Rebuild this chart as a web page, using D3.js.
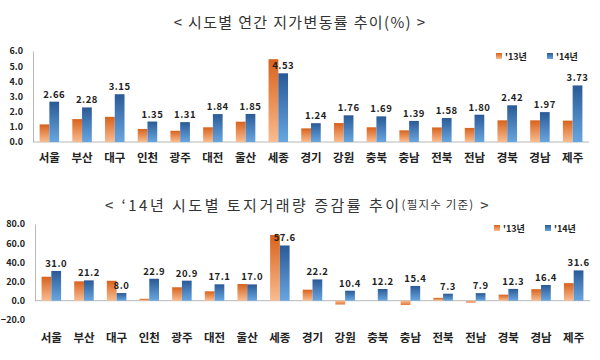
<!DOCTYPE html>
<html><head><meta charset="utf-8">
<script src="https://cdn.jsdelivr.net/npm/d3@7/dist/d3.min.js"></script>
<style>body{margin:0;background:#fff}svg{display:block}</style>
</head><body>
<svg id="c" width="600" height="360"></svg>
<script>
const regions = ["서울","부산","대구","인천","광주","대전","울산","세종","경기","강원","충북","충남","전북","전남","경북","경남","제주"];
const seriesNames = ["'13년","'14년"];
const land13 = [1.16,1.51,1.66,0.86,0.74,0.97,1.34,5.46,0.90,1.25,0.97,0.77,0.96,0.93,1.43,1.43,1.41];
const land14 = [2.66,2.28,3.15,1.35,1.31,1.84,1.85,4.53,1.24,1.76,1.69,1.39,1.58,1.80,2.42,1.97,3.73];
const landTicks = [0,1,2,3,4,5,6];
const trade13 = [25.0,20.2,20.8,2.0,14.0,9.8,17.4,68.5,11.5,-4.0,0.0,-4.5,3.0,-2.0,6.3,12.0,18.3];
const trade14 = [31.0,21.2,8.0,22.9,20.9,17.1,17.0,57.6,22.2,10.4,12.2,15.4,7.3,7.9,12.3,16.4,31.6];
const tradeTicks = [-20,0,20,40,60,80];
const title1 = "< 시도별 연간 지가변동률 추이(%) >";
const title2a = "< ‘14년 시도별 토지거래량 증감률 추이";
const title2b = "(필지수 기준)";
const title2c = " >";

const svg = d3.select("#c");
const FONT = "'Noto Sans CJK KR', 'Noto Sans', sans-serif";
const defs = svg.append("defs");
function grad(id, top, bottom){
  const g = defs.append("linearGradient").attr("id",id).attr("x1",0).attr("y1",0).attr("x2",0).attr("y2",1);
  g.append("stop").attr("offset","0%").attr("stop-color",top);
  g.append("stop").attr("offset","100%").attr("stop-color",bottom);
}
grad("gO","#d8621c","#f9bc90");
grad("gB","#2a5a96","#68a6e0");
grad("gOn","#f9bc90","#e8763a");
const fills = ["url(#gO)","url(#gB)"];

function chart(cfg){
  const x = d3.scaleBand().domain(regions).range([cfg.x0, cfg.x1]);
  const y = d3.scaleLinear().domain(cfg.domain).range([cfg.yb, cfg.yt]);
  const xs = d3.scaleBand().domain(seriesNames).range([x.bandwidth()/2-9.75, x.bandwidth()/2+9.75]);
  const g = svg.append("g");
  const ya = d3.axisLeft(y).tickValues(cfg.ticks).tickSize(0).tickPadding(cfg.pad).tickFormat(d3.format(".1f"));
  const ag = g.append("g").attr("transform",`translate(${cfg.x0},0)`).call(ya);
  ag.select(".domain").attr("stroke","#b8b8b8").attr("stroke-width",1);
  ag.selectAll("text").attr("font-family",FONT).attr("font-weight","bold").attr("font-size",9).attr("fill","#222");
  g.append("line").attr("x1",cfg.x0).attr("x2",cfg.x1).attr("y1",y(0)).attr("y2",y(0)).attr("stroke","#b8b8b8");
  const data = [cfg.s13, cfg.s14];
  data.forEach((arr, si) => {
    g.selectAll(null).data(arr).join("rect")
      .attr("x",(d,i)=>x(regions[i])+xs(seriesNames[si]))
      .attr("width",xs.bandwidth())
      .attr("y",d=>y(Math.max(0,d)))
      .attr("height",d=>Math.abs(y(d)-y(0)))
      .attr("fill",d=> (si===0 && d<0) ? "url(#gOn)" : fills[si]);
  });
  g.selectAll(null).data(cfg.s14).join("text")
    .attr("x",(d,i)=>x(regions[i])+xs(seriesNames[1])+xs.bandwidth()/2)
    .attr("y",d=>y(d)-4)
    .attr("text-anchor","middle")
    .attr("font-family",FONT).attr("font-weight","bold").attr("font-size",9.5).attr("letter-spacing",0.5).attr("fill","#222")
    .text(d=>d3.format(cfg.fmt)(d));
  g.selectAll(null).data(regions).join("text")
    .attr("x",d=>x(d)+x.bandwidth()/2)
    .attr("y",cfg.labY)
    .attr("text-anchor","middle").attr("dominant-baseline","central")
    .attr("font-family",FONT).attr("font-weight","bold").attr("font-size",11.5).attr("fill","#222")
    .text(d=>d);
  const lg = g.append("g");
  seriesNames.forEach((n,i)=>{
    const lx = cfg.legX + i*51;
    lg.append("rect").attr("x",lx-3).attr("y",cfg.legY-3).attr("width",6).attr("height",6).attr("fill",fills[i]);
    lg.append("text").attr("x",lx+6).attr("y",cfg.legY).attr("dominant-baseline","central")
      .attr("font-family",FONT).attr("font-weight","bold").attr("font-size",9).attr("fill","#222").text(n);
  });
}

chart({x0:33,x1:589,yb:142,yt:51,domain:[0,6],ticks:landTicks,s13:land13,s14:land14,fmt:".2f",labY:157,legX:499,legY:56,pad:10});
chart({x0:35,x1:590,yb:300.7,yt:224,domain:[0,80],ticks:tradeTicks,s13:trade13,s14:trade14,fmt:".1f",labY:337,legX:497,legY:228,pad:10});

svg.append("text").attr("x",300).attr("y",21).attr("text-anchor","middle").attr("dominant-baseline","central")
  .attr("font-family",FONT).attr("font-size",15).attr("fill","#333").attr("letter-spacing",1.35).text(title1);
const t2 = svg.append("text").attr("x",298).attr("y",204).attr("text-anchor","middle").attr("dominant-baseline","central")
  .attr("font-family",FONT).attr("fill","#333").attr("letter-spacing",2.5);
t2.append("tspan").attr("font-size",15).text(title2a);
t2.append("tspan").attr("font-size",11.5).attr("letter-spacing",1.2).text(title2b);
t2.append("tspan").attr("font-size",15).text(title2c);
</script>
</body></html>
